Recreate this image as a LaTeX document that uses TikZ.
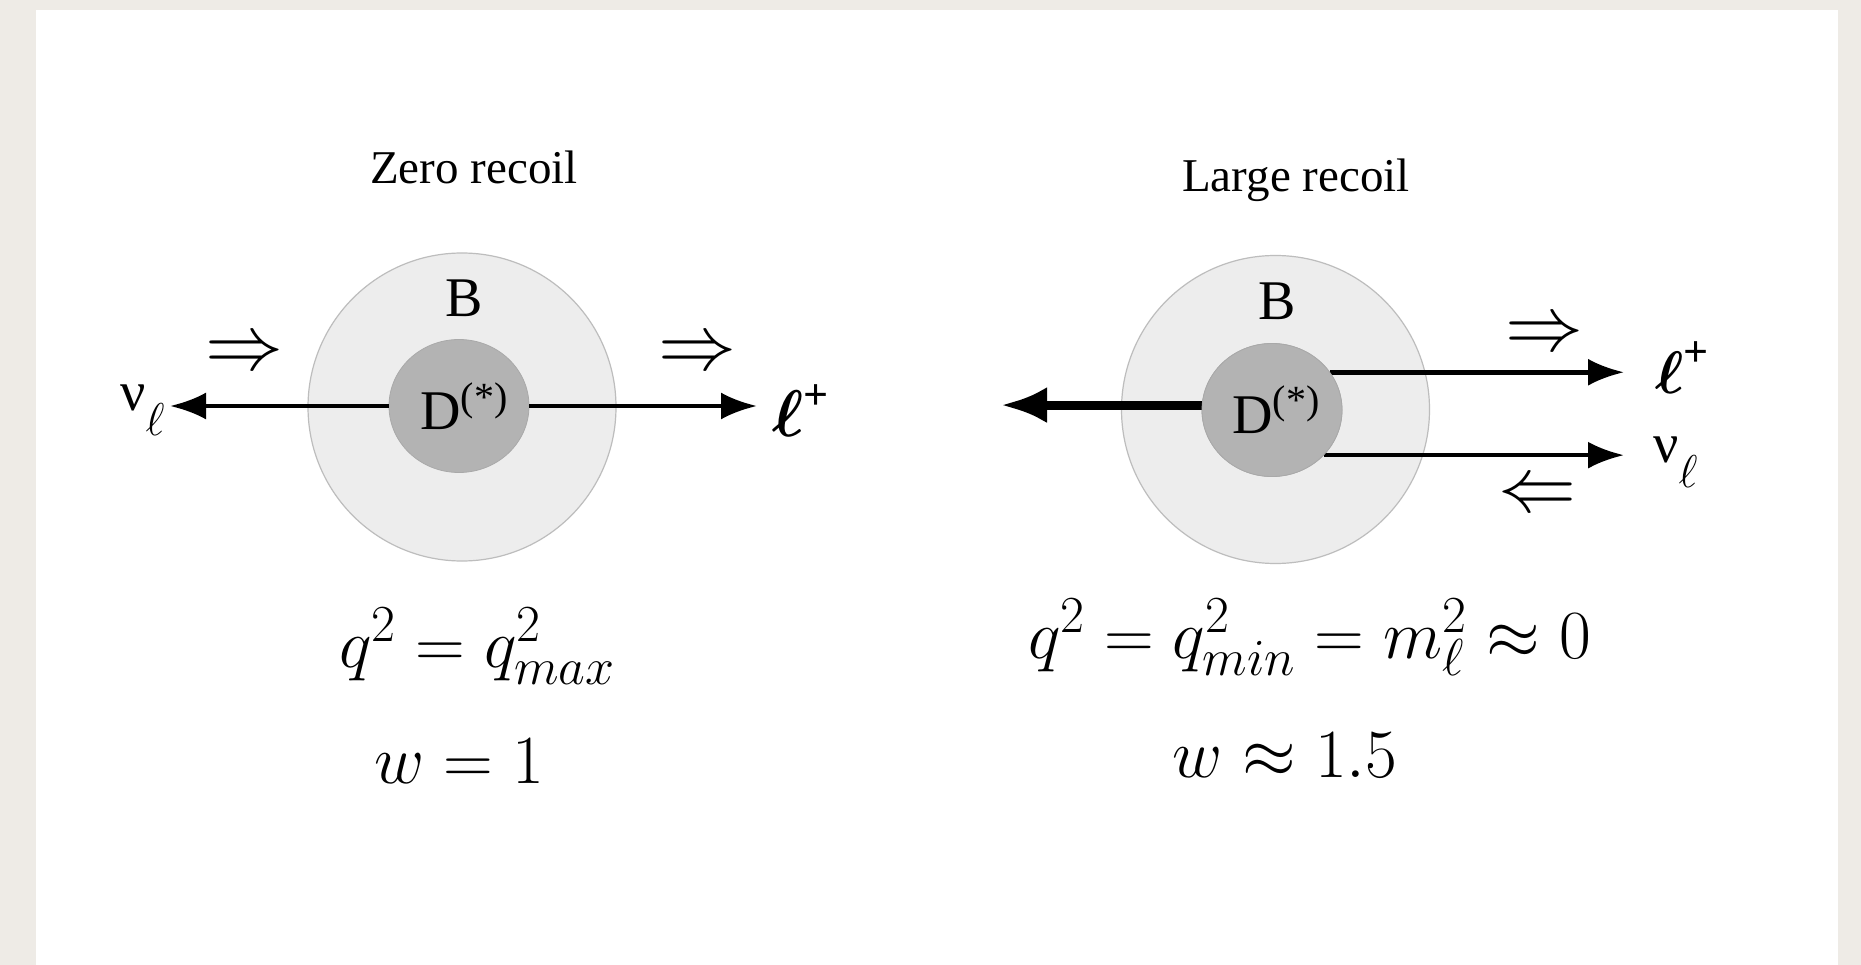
\RequirePackage{fix-cm}
\documentclass[tikz,border=0pt]{standalone}
\usepackage{amsmath}
\usepackage[no-math]{fontspec}
\setmainfont{Liberation Serif}
\usetikzlibrary{arrows.meta,shapes.geometric,calc}
\DeclareMathSizes{69}{69}{52}{38}
\definecolor{paper}{HTML}{EEEBE6}
\definecolor{outerfill}{HTML}{EDEDED}
\definecolor{outerline}{HTML}{BDBDBD}
\definecolor{innerfill}{HTML}{B3B3B3}
\definecolor{innerline}{HTML}{A9A9A9}
\newcommand{\leptonplus}[1]{{\fontsize{#1}{#1}\selectfont\boldmath$\ell$}\raisebox{27pt}{\fontsize{44}{44}\selectfont\bfseries +}}
\newcommand{\neutrinolabel}{ν\raisebox{-25pt}{\fontsize{46}{46}\selectfont$\ell$}}
\newcommand{\dstar}{D\raisebox{20pt}{\fontsize{40}{40}\selectfont(*)}}
\tikzset{
  outercircle/.style={circle, minimum size=308pt, fill=outerfill, draw=outerline, line width=1.2pt, inner sep=0pt},
  innerell/.style={ellipse, minimum width=140pt, minimum height=133pt, fill=innerfill, draw=innerline, line width=0.8pt, inner sep=0pt},
  arr/.style={line width=4.5pt, -{Latex[length=36pt,width=27pt]}},
  thickarr/.style={line width=9pt, -{Latex[length=46pt,width=36pt]}},
  lbl/.style={inner sep=0pt, anchor=base},
  titlelbl/.style={lbl, font=\fontsize{47}{50}\selectfont},
  biglbl/.style={lbl, font=\fontsize{56}{60}\selectfont},
  eqlbl/.style={lbl, font=\fontsize{69}{80}\selectfont},
  partlbl/.style={inner sep=0pt, anchor=base west, font=\fontsize{56}{60}\selectfont},
  dblarr/.style={inner sep=0pt, font=\fontsize{78}{80}\selectfont}
}
\begin{document}
\begin{tikzpicture}[x=1pt,y=-1pt]
\useasboundingbox (0,0) rectangle (1861,965);
\fill[paper] (0,0) rectangle (1861,965);
\fill[white] (36,10) rectangle (1838,965);

% ---------- left: zero recoil ----------
\node[titlelbl] (tz) at (474,184) {Zero recoil};
\node[outercircle] (outL) at (462,407) {};
\node[biglbl] (bL) at (464.5,317) {B};
\coordinate (tipNuL) at (170,405);
\coordinate (tipLepL) at (757,405);
\node[innerell] (inL) at (459,406) {};
\draw[arr] (inL.west) -- (inL.west -| tipNuL);
\draw[arr] (inL.east) -- (inL.east -| tipLepL);
\node[biglbl] (dL) at (464,430) {\dstar};
\node[partlbl] (nuL) at (120,410) {\neutrinolabel};
\node[partlbl] (lepL) at (772,436) {\leptonplus{66}};
\node[dblarr] (r1) at (244,355) {$\Rightarrow$};
\node[dblarr] (r2) at (697,355) {$\Rightarrow$};
\node[eqlbl] (eqL) at (477,667) {$q^2=q^2_{max}$};
\node[eqlbl] (wL) at (459,783) {$w=1$};

% ---------- right: large recoil ----------
\node[titlelbl] (tl) at (1296,192) {Large recoil};
\node[outercircle] (outR) at (1275.5,409.5) {};
\node[biglbl] (bR) at (1277,320) {B};
\coordinate (tipBack) at (1001,405);
\coordinate (tipUp) at (1624,372);
\coordinate (tipDown) at (1624,455);
\node[innerell] (inR) at (1272,410) {};
\draw[thickarr] (inR.176) -- (inR.176 -| tipBack);
\draw[arr] (inR.33) -- (inR.33 -| tipUp);
\draw[arr] (inR.-41) -- (inR.-41 -| tipDown);
\node[innerell] at (inR) {};
\node[biglbl] (dR) at (1276,433) {\dstar};
\node[partlbl] (lepR) at (1655,394) {\leptonplus{60}};
\node[partlbl] (nuR) at (1653,462) {\neutrinolabel};
\node[dblarr] (r3) at (1544,336) {$\Rightarrow$};
\node[dblarr] (r4) at (1537,497) {$\Leftarrow$};
\node[eqlbl] (eqR) at (1309.5,658) {$q^2=q^2_{min}=m^2_\ell\approx 0$};
\node[eqlbl] (wR) at (1285,777) {$w\approx 1.5$};
\end{tikzpicture}
\end{document}
